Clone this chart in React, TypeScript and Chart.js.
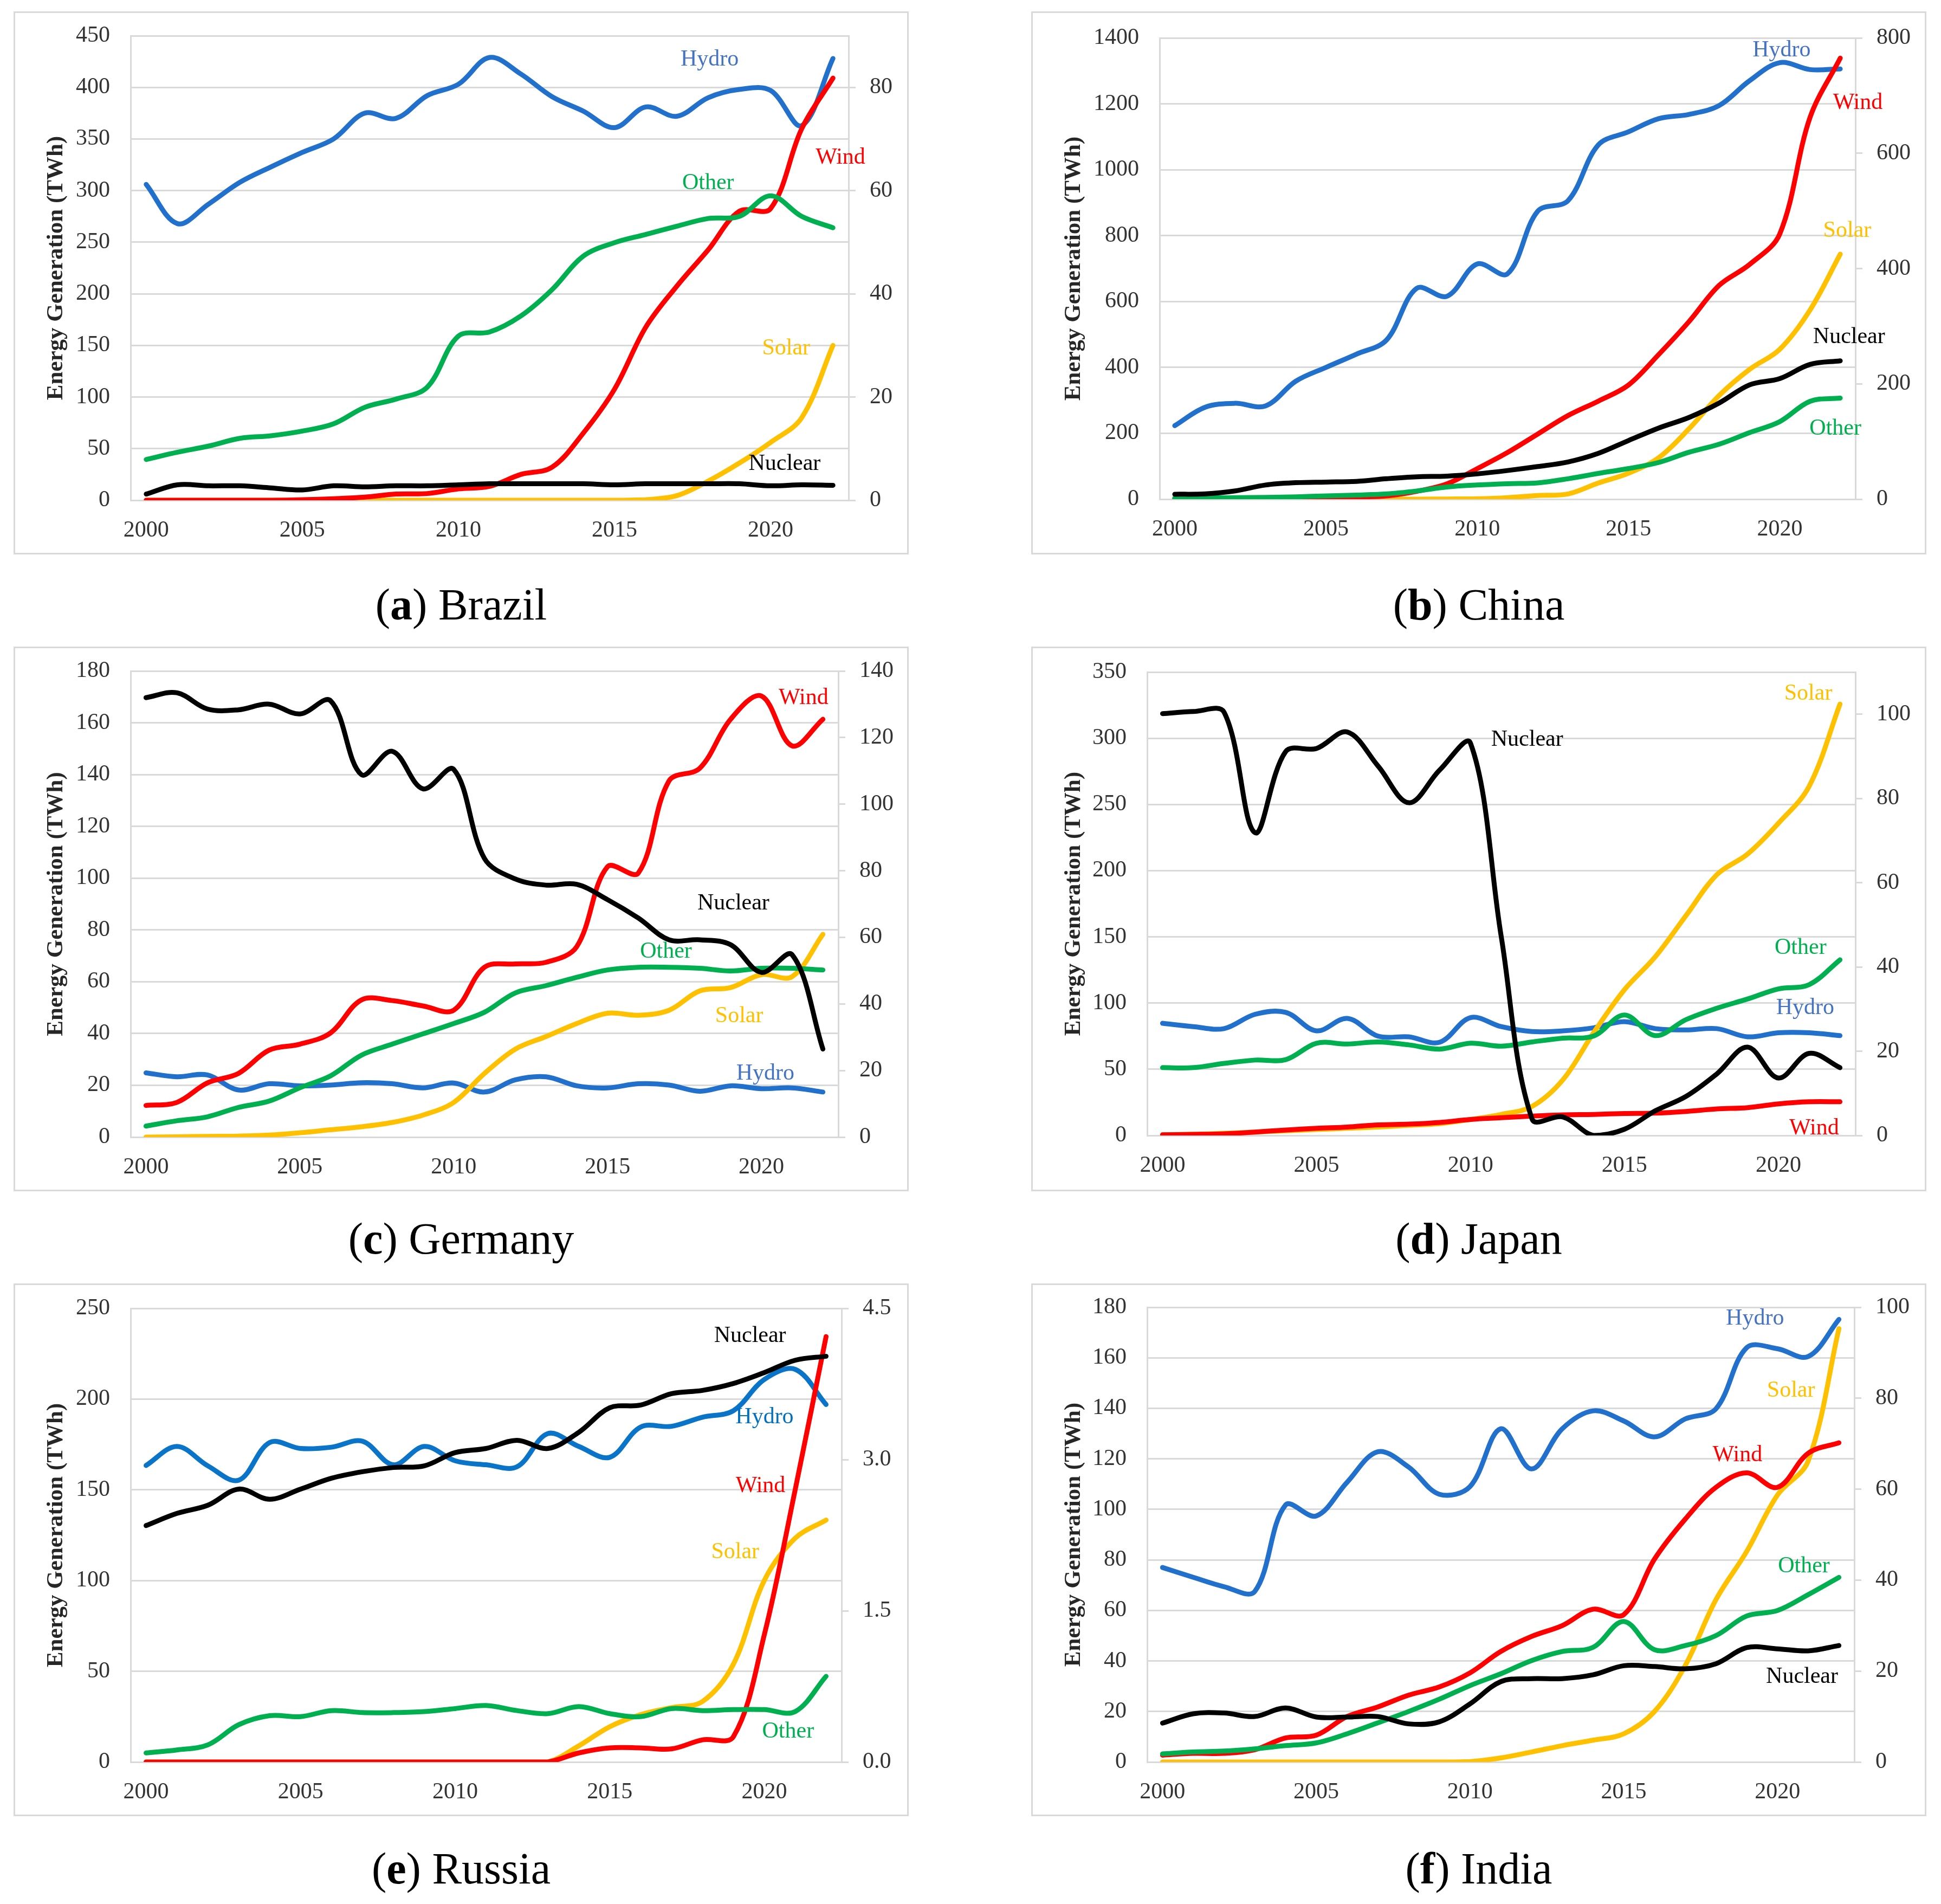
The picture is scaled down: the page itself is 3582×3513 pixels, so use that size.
import React, { useEffect, useRef } from 'react';
import { Chart, registerables } from 'chart.js';

Chart.register(...registerables);

const FONT = "'Liberation Serif', 'Times New Roman', serif";

// ---------- categories ----------
const years = ['2000','2001','2002','2003','2004','2005','2006','2007','2008','2009','2010','2011','2012','2013','2014','2015','2016','2017','2018','2019','2020','2021','2022'];

// ---------- Brazil (Hydro, Nuclear: left axis; Wind, Solar, Other: right axis) ----------
const brazilHydro = [306, 268, 287, 308, 323, 337, 350, 375, 370, 392, 403, 429, 413, 391, 377, 361, 381, 372, 390, 398, 397, 363, 428];
const brazilNuclear = [6, 15, 14, 14, 12, 10, 14, 13, 14, 14, 15, 16, 16, 16, 16, 15, 16, 16, 16, 16, 14, 15, 14.5];
const brazilWind = [0, 0, 0, 0, 0, 0.1, 0.3, 0.6, 1.2, 1.3, 2.2, 2.7, 5.0, 6.4, 13, 21.5, 33.5, 41.5, 48.5, 56, 56.5, 72, 81.8];
const brazilSolar = [0, 0, 0, 0, 0, 0, 0, 0, 0, 0, 0, 0, 0, 0, 0, 0, 0.1, 0.9, 3.7, 7.2, 11.2, 16, 30];
const brazilOther = [7.9, 9.3, 10.5, 12.0, 12.5, 13.4, 14.8, 18, 19.6, 21.9, 31.8, 32.6, 35.7, 40.8, 47.3, 49.9, 51.5, 53.1, 54.6, 55, 59, 55, 52.8];

// ---------- China ----------
const chinaHydro = [223, 279, 291, 283, 358, 400, 440, 483, 640, 616, 714, 684, 874, 906, 1075, 1115, 1155, 1168, 1195, 1270, 1325, 1304, 1306];
const chinaNuclear = [15, 16, 25, 43, 50, 52, 54, 62, 68, 70, 77, 87, 99, 113, 139, 178, 216, 248, 292, 347, 366, 409, 420];
const chinaWind = [0.3, 0.4, 0.6, 1, 1.3, 1.9, 3.7, 5.7, 13.5, 26.5, 53, 81, 113, 145, 170, 198, 251, 308, 371, 407, 460, 662, 765];
const chinaSolar = [0, 0, 0, 0, 0, 0, 0, 0, 0.1, 0.3, 0.7, 2.6, 6.4, 9, 28, 45, 72, 122, 180, 225, 260, 328, 425];
const chinaOther = [2.1, 2.3, 2.6, 3, 4, 5.7, 7.1, 9.1, 14.2, 21.1, 24.6, 26.9, 28.3, 35.4, 44.6, 53.1, 63.7, 81.4, 95.4, 115.4, 134.5, 169.7, 175.4];

// ---------- Germany ----------
const germanyHydro = [24.8, 23.3, 24, 18.2, 20.6, 19.8, 20.1, 21, 20.6, 19, 20.9, 17.4, 22.1, 23.3, 19.8, 19, 20.6, 20.1, 17.7, 19.8, 18.7, 19, 17.4];
const germanyNuclear = [169.7, 171.6, 165.3, 165, 167.2, 163.4, 168.5, 140, 149, 134.5, 142, 107.6, 99.7, 97.3, 97.6, 91.7, 84.6, 76.2, 76.2, 74.3, 63.6, 70.4, 34];
const germanyWind = [9.5, 10.4, 16.3, 19.1, 26.1, 27.9, 31.3, 41.2, 41, 39.4, 38.1, 51, 52, 52.5, 57.2, 81.2, 79.3, 107, 110.8, 125.5, 132.5, 117.5, 125.5];
const germanySolar = [0, 0.1, 0.2, 0.3, 0.6, 1.3, 2.2, 3.1, 4.4, 6.6, 10.4, 19.1, 26.4, 30.2, 34.1, 37.2, 36.6, 38.1, 43.9, 44.9, 48.8, 48.2, 60.9];
const germanyOther = [3.3, 4.9, 6.1, 8.9, 10.8, 14.8, 18.4, 24.6, 27.9, 31, 34.1, 37.5, 43.3, 45.5, 48, 50.2, 51, 51, 50.7, 49.9, 50.7, 50.7, 50.2];

// ---------- Japan ----------
const japanHydro = [84.7, 82.2, 80.7, 91.5, 93, 79, 88.4, 75, 74.5, 70.4, 89, 82.2, 78.5, 79, 81.3, 86, 80.7, 79.7, 80.7, 74.5, 77.6, 77.6, 75.4];
const japanNuclear = [318.6, 320.2, 319.6, 228.7, 290, 292.3, 304.7, 279, 251.3, 276, 296.3, 150, 12.4, 14, 0, 4.7, 18.6, 29.5, 46.5, 66.7, 43.4, 62, 51.2];
const japanWind = [0.16, 0.25, 0.4, 0.8, 1.3, 1.7, 2, 2.5, 2.7, 3.1, 3.8, 4.2, 4.6, 4.9, 5, 5.2, 5.3, 5.7, 6.3, 6.6, 7.5, 8, 8];
const japanSolar = [0.16, 0.3, 0.5, 0.8, 1.1, 1.4, 1.7, 2, 2.4, 2.8, 3.8, 5, 6.9, 13.2, 24.4, 34.6, 42.4, 52.2, 61.9, 66.8, 74.1, 82.9, 102.4];
const japanOther = [16.1, 16.1, 17.1, 17.9, 18, 21.9, 21.7, 22.2, 21.5, 20.5, 21.9, 21.2, 22.2, 23.1, 23.6, 28.6, 23.7, 27.5, 30.2, 32.4, 34.8, 35.8, 41.7];

// ---------- Russia ----------
const russiaHydro = [163.4, 173.9, 163.2, 155.3, 176.1, 172.8, 173.5, 176.8, 163.8, 173.9, 166, 163.8, 162.7, 181, 173.9, 167.9, 184.6, 185, 190, 193.6, 210.8, 216.4, 197];
const russiaNuclear = [130.3, 137, 141.5, 150.4, 144.8, 150.4, 156.4, 160, 162.3, 163.2, 170.5, 172.8, 177.3, 172.8, 181.7, 195.2, 196.7, 203, 204.8, 208.6, 214.6, 221.4, 223.6];
const russiaWind = [0, 0, 0, 0, 0, 0, 0, 0, 0, 0, 0, 0, 0, 0, 0.09, 0.14, 0.14, 0.13, 0.22, 0.25, 1.26, 2.7, 4.22];
const russiaSolar = [0, 0, 0, 0, 0, 0, 0, 0, 0, 0, 0, 0, 0, 0, 0.16, 0.35, 0.47, 0.54, 0.6, 0.97, 1.8, 2.22, 2.4];
const russiaOther = [0.09, 0.12, 0.17, 0.37, 0.46, 0.45, 0.51, 0.49, 0.49, 0.5, 0.53, 0.56, 0.51, 0.48, 0.55, 0.48, 0.45, 0.53, 0.51, 0.52, 0.52, 0.5, 0.85];

// ---------- India ----------
const indiaHydro = [77, 73.1, 69.4, 67.5, 101.7, 97.4, 110.7, 122.8, 116.8, 106, 109, 131.9, 116, 131.9, 139, 135, 128.7, 135.8, 139.8, 164, 163.6, 160.5, 175.2];
const indiaNuclear = [15.4, 19.1, 19.4, 18, 21.4, 17.8, 17.8, 18, 15.1, 15.9, 23, 31.8, 33, 33, 34.5, 38.1, 37.8, 36.9, 38.9, 45.3, 44.8, 44, 46.1];
const indiaWind = [1.5, 1.9, 1.9, 2.7, 5.3, 5.9, 10, 12.1, 14.7, 16.5, 19.6, 24.3, 27.6, 30, 33.6, 32.4, 44.6, 53.4, 60.4, 63.6, 60.4, 67.9, 70.2];
const indiaSolar = [0, 0, 0, 0, 0, 0, 0, 0, 0, 0, 0.1, 0.9, 2.2, 3.6, 4.8, 6.2, 11.1, 21.2, 35.7, 46.3, 58.7, 66.2, 95.3];
const indiaOther = [1.8, 2.2, 2.4, 2.9, 3.6, 4.2, 6.2, 8.6, 11.1, 13.8, 16.8, 19.4, 22.3, 24.3, 25.2, 30.9, 24.7, 25.6, 27.8, 32.1, 33.3, 36.8, 40.6];

// ---------- styles ----------
const COLORS = {
  Hydro: '#2170cc',
  Nuclear: '#000000',
  Wind: '#ff0000',
  Solar: '#ffc000',
  Other: '#00b050',
};
const LABEL_COLORS = {
  Hydro: '#4472c4',
  Nuclear: '#000000',
  Wind: '#ff0000',
  Solar: '#ffc000',
  Other: '#00b050',
};

type Series = { name: string; data: number[]; axis: 'y' | 'y1' };
type Lbl = { text: string; year: number; value: number };
type PanelCfg = {
  letter: string;
  name: string;
  frame: { x: number; y: number; w: number; h: number };
  plot: { L: number; R: number; T: number; B: number };
  captionY: number;
  left: { max: number; step: number };
  right: { max: number; step: number; decimals: number };
  series: Series[];
  labels: Lbl[];
  hydroColor?: string;
  hydroLabelColor?: string;
};

function mk(h: number[], n: number[], w: number[], s: number[], o: number[]): Series[] {
  // first item is drawn on top
  return [
    { name: 'Nuclear', data: n, axis: 'y' },
    { name: 'Other', data: o, axis: 'y1' },
    { name: 'Wind', data: w, axis: 'y1' },
    { name: 'Solar', data: s, axis: 'y1' },
    { name: 'Hydro', data: h, axis: 'y' },
  ];
}

const PANELS: PanelCfg[] = [
  {
    letter: 'a', name: 'Brazil',
    frame: { x: 25, y: 21, w: 1652, h: 1002 }, plot: { L: 216, R: 111, T: 45, B: 100 }, captionY: 1117,
    left: { max: 450, step: 50 }, right: { max: 90, step: 20, decimals: 0 },
    series: mk(brazilHydro, brazilNuclear, brazilWind, brazilSolar, brazilOther),
    labels: [
      { text: 'Hydro', year: 2018.05, value: 427 },
      { text: 'Wind', year: 2022.24, value: 332 },
      { text: 'Other', year: 2018.0, value: 307 },
      { text: 'Solar', year: 2020.5, value: 147 },
      { text: 'Nuclear', year: 2020.45, value: 35 },
    ],
  },
  {
    letter: 'b', name: 'China',
    frame: { x: 1903, y: 21, w: 1652, h: 1002 }, plot: { L: 237, R: 131, T: 49, B: 102 }, captionY: 1117,
    left: { max: 1400, step: 200 }, right: { max: 800, step: 200, decimals: 0 },
    series: mk(chinaHydro, chinaNuclear, chinaWind, chinaSolar, chinaOther),
    labels: [
      { text: 'Hydro', year: 2020.06, value: 1363 },
      { text: 'Wind', year: 2022.58, value: 1202 },
      { text: 'Solar', year: 2022.23, value: 814 },
      { text: 'Nuclear', year: 2022.29, value: 492 },
      { text: 'Other', year: 2021.84, value: 214 },
    ],
  },
  {
    letter: 'c', name: 'Germany',
    frame: { x: 25, y: 1193, w: 1652, h: 1005 }, plot: { L: 216, R: 130, T: 45, B: 100 }, captionY: 2287,
    left: { max: 180, step: 20 }, right: { max: 140, step: 20, decimals: 0 },
    series: mk(germanyHydro, germanyNuclear, germanyWind, germanySolar, germanyOther),
    labels: [
      { text: 'Wind', year: 2021.37, value: 169.6 },
      { text: 'Nuclear', year: 2019.09, value: 90.2 },
      { text: 'Other', year: 2016.9, value: 71.5 },
      { text: 'Solar', year: 2019.28, value: 46.7 },
      { text: 'Hydro', year: 2020.13, value: 24.5 },
    ],
  },
  {
    letter: 'd', name: 'Japan',
    frame: { x: 1903, y: 1193, w: 1652, h: 1005 }, plot: { L: 214, R: 131, T: 47, B: 103 }, captionY: 2287,
    left: { max: 350, step: 50 }, right: { max: 110, step: 20, decimals: 0 },
    series: mk(japanHydro, japanNuclear, japanWind, japanSolar, japanOther),
    labels: [
      { text: 'Solar', year: 2020.97, value: 333.5 },
      { text: 'Nuclear', year: 2011.84, value: 298.8 },
      { text: 'Other', year: 2020.72, value: 141.8 },
      { text: 'Hydro', year: 2020.87, value: 96.2 },
      { text: 'Wind', year: 2021.16, value: 5.3 },
    ],
  },
  {
    letter: 'e', name: 'Russia',
    frame: { x: 25, y: 2368, w: 1652, h: 983 }, plot: { L: 216, R: 124, T: 46, B: 100 }, captionY: 3449,
    left: { max: 250, step: 50 }, right: { max: 4.5, step: 1.5, decimals: 1 },
    series: mk(russiaHydro, russiaNuclear, russiaWind, russiaSolar, russiaOther),
    labels: [
      { text: 'Nuclear', year: 2019.54, value: 234.8 },
      { text: 'Hydro', year: 2020.01, value: 190 },
      { text: 'Wind', year: 2019.88, value: 152 },
      { text: 'Solar', year: 2019.06, value: 115.7 },
      { text: 'Other', year: 2020.77, value: 16.8 },
    ],
    hydroColor: '#0a74c8',
    hydroLabelColor: '#0070c0',
  },
  {
    letter: 'f', name: 'India',
    frame: { x: 1903, y: 2368, w: 1652, h: 983 }, plot: { L: 214, R: 133, T: 44, B: 100 }, captionY: 3449,
    left: { max: 180, step: 20 }, right: { max: 100, step: 20, decimals: 0 },
    series: mk(indiaHydro, indiaNuclear, indiaWind, indiaSolar, indiaOther),
    labels: [
      { text: 'Hydro', year: 2019.27, value: 175.6 },
      { text: 'Solar', year: 2020.44, value: 147 },
      { text: 'Wind', year: 2018.7, value: 121.5 },
      { text: 'Other', year: 2020.86, value: 77.4 },
      { text: 'Nuclear', year: 2020.8, value: 33.7 },
    ],
  },
];

const BORDER = 3;
const TICK_FONT = 42;
const LABEL_FONT = 42;
const TEXT_COLOR = '#333333';
const GRID_COLOR = '#d9d9d9';

function Panel({ cfg }: { cfg: PanelCfg }) {
  const ref = useRef<HTMLCanvasElement>(null);

  useEffect(() => {
    if (!ref.current) return;
    const colorOf = (name: string) =>
      name === 'Hydro' && cfg.hydroColor ? cfg.hydroColor : (COLORS as any)[name];
    const labelColorOf = (name: string) =>
      name === 'Hydro' && cfg.hydroLabelColor ? cfg.hydroLabelColor : (LABEL_COLORS as any)[name];

    const labelPlugin = {
      id: 'seriesLabels',
      afterDatasetsDraw(chart: any) {
        const xs = chart.scales.x;
        const ys = chart.scales.y;
        const x0 = xs.getPixelForValue(0);
        const dx = xs.getPixelForValue(1) - x0;
        const ctx = chart.ctx;
        ctx.save();
        ctx.font = `${LABEL_FONT}px ${FONT}`;
        ctx.textAlign = 'center';
        ctx.textBaseline = 'middle';
        for (const l of cfg.labels) {
          ctx.fillStyle = labelColorOf(l.text);
          ctx.fillText(l.text, x0 + (l.year - 2000) * dx, ys.getPixelForValue(l.value));
        }
        ctx.restore();
      },
    };

    const keepSteps = (step: number) => (axis: any) => {
      axis.ticks = axis.ticks.filter((t: any) => {
        const r = t.value / step;
        return Math.abs(r - Math.round(r)) < 1e-6;
      });
    };

    const chart = new Chart(ref.current, {
      type: 'line',
      data: {
        labels: years,
        datasets: cfg.series.map((s) => ({
          label: s.name,
          data: s.data,
          yAxisID: s.axis,
          borderColor: colorOf(s.name),
          backgroundColor: colorOf(s.name),
          borderWidth: 9,
          pointRadius: 0,
          pointHoverRadius: 0,
          tension: 0.35,
          borderCapStyle: 'round',
          borderJoinStyle: 'round',
          fill: false,
        })),
      },
      options: {
        animation: false,
        responsive: false,
        devicePixelRatio: 1,
        events: [],
        layout: { padding: { top: cfg.plot.T - BORDER, left: 0, right: 0, bottom: 0 } },
        plugins: {
          legend: { display: false },
          tooltip: { enabled: false },
          title: { display: false },
        },
        scales: {
          x: {
            type: 'category',
            offset: true,
            grid: { display: false },
            border: { display: false },
            ticks: {
              autoSkip: false,
              maxRotation: 0,
              minRotation: 0,
              padding: 23,
              color: TEXT_COLOR,
              font: { family: FONT, size: TICK_FONT },
              callback: (_v: any, i: number) => (i % 5 === 0 ? years[i] : ''),
            },
            afterFit: (scale: any) => {
              scale.height = cfg.plot.B - BORDER;
              scale.paddingLeft = 0;
              scale.paddingRight = 0;
            },
          },
          y: {
            type: 'linear',
            position: 'left',
            min: 0,
            max: cfg.left.max,
            grid: { color: GRID_COLOR, lineWidth: 3, drawTicks: false },
            border: { display: true, color: GRID_COLOR, width: 3 },
            ticks: {
              stepSize: cfg.left.step,
              padding: 38,
              color: TEXT_COLOR,
              font: { family: FONT, size: TICK_FONT },
              callback: (v: any) => String(v),
            },
            title: {
              display: true,
              text: 'Energy Generation (TWh)',
              color: '#262626',
              font: { family: FONT, size: 43, weight: 'bold' },
              padding: { top: 50, bottom: 0 },
            },
            afterFit: (scale: any) => {
              scale.width = cfg.plot.L - BORDER;
              scale.paddingTop = 0;
              scale.paddingBottom = 0;
            },
          },
          y1: {
            type: 'linear',
            position: 'right',
            min: 0,
            max: cfg.right.max,
            grid: {
              drawOnChartArea: false,
              drawTicks: true,
              tickLength: 13,
              color: GRID_COLOR,
              lineWidth: 3,
            },
            border: { display: true, color: GRID_COLOR, width: 3 },
            ticks: {
              stepSize: cfg.right.step,
              padding: 26,
              color: TEXT_COLOR,
              font: { family: FONT, size: TICK_FONT },
              callback: (v: any) => Number(v).toFixed(cfg.right.decimals),
            },
            afterBuildTicks: keepSteps(cfg.right.step),
            afterFit: (scale: any) => {
              scale.width = cfg.plot.R - BORDER;
              scale.paddingTop = 0;
              scale.paddingBottom = 0;
            },
          },
        },
      } as any,
      plugins: [labelPlugin as any],
    });
    return () => chart.destroy();
  }, [cfg]);

  const { frame } = cfg;
  return (
    <>
      <div
        style={{
          position: 'absolute',
          left: frame.x,
          top: frame.y,
          width: frame.w,
          height: frame.h,
          border: `${BORDER}px solid ${GRID_COLOR}`,
          boxSizing: 'border-box',
          background: '#ffffff',
        }}
      >
        <canvas
          ref={ref}
          width={frame.w - 2 * BORDER}
          height={frame.h - 2 * BORDER}
          style={{ display: 'block' }}
        />
      </div>
      <div
        style={{
          position: 'absolute',
          left: frame.x,
          width: frame.w,
          top: cfg.captionY - 42,
          textAlign: 'center',
          fontFamily: FONT,
          fontSize: 82,
          lineHeight: '82px',
          color: '#000000',
          whiteSpace: 'nowrap',
        }}
      >
        (<b>{cfg.letter}</b>) {cfg.name}
      </div>
    </>
  );
}

export default function App() {
  return (
    <div
      style={{
        position: 'absolute',
        left: 0,
        top: 0,
        width: 3582,
        height: 3513,
        background: '#ffffff',
        overflow: 'hidden',
      }}
    >
      {PANELS.map((p) => (
        <Panel key={p.letter} cfg={p} />
      ))}
    </div>
  );
}
